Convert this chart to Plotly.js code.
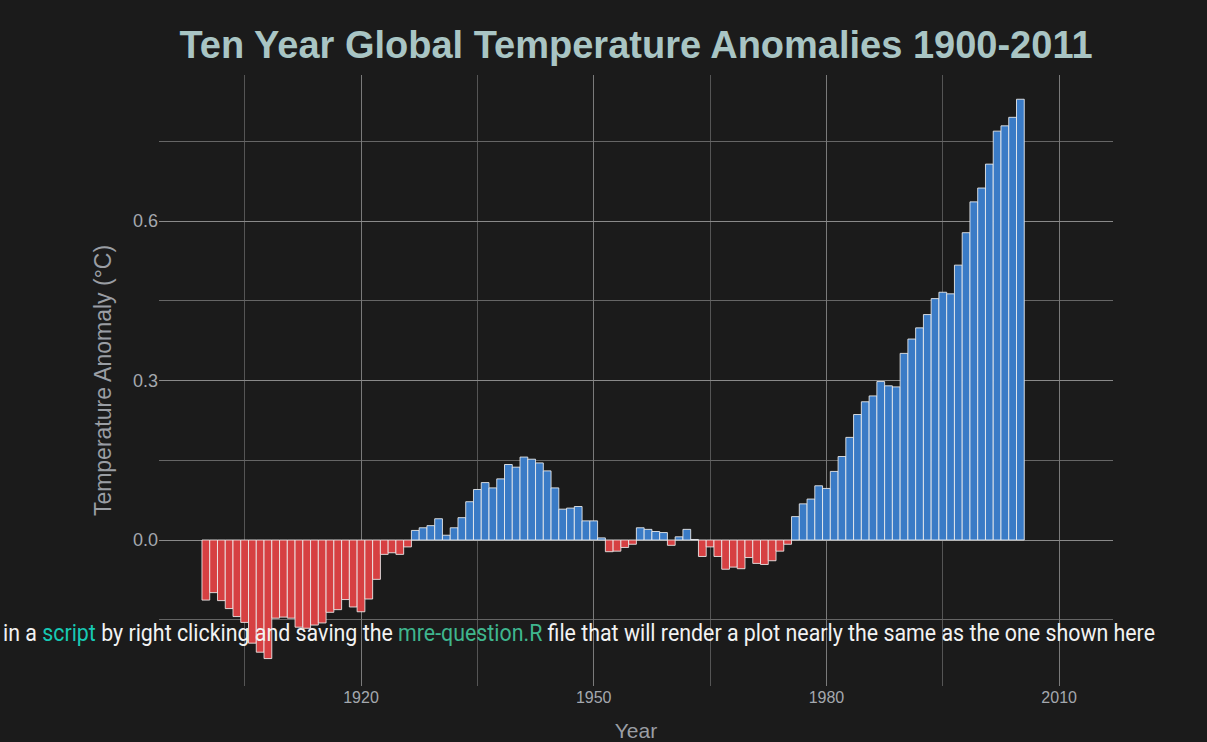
<!DOCTYPE html>
<html>
<head>
<meta charset="utf-8">
<script src="https://cdn.plot.ly/plotly-3.0.1.min.js"></script>
<style>
  html, body { margin: 0; padding: 0; background: #1b1b1b; overflow: hidden; }
  #chart { width: 1207px; height: 742px; }
  #note {
    position: absolute; left: 3px; top: 622px; white-space: nowrap;
    font-family: Roboto, "Noto Sans", sans-serif; font-size: 23px; line-height: 23px;
    color: #f2f2f2; transform-origin: 0 0;
  }
  #note .s1 { color: #17c9b4; }
  #note .s2 { color: #3fb68e; }
</style>
</head>
<body>
<div id="chart"></div>
<div id="note">in a <span class="s1">script</span> by right clicking and saving the <span class="s2">mre-question.R</span> file that will render a plot nearly the same as the one shown here</div>
<script>
const years = [];
for (let y = 1900; y <= 2005; y++) years.push(y);

const anomalies = [
  -0.113, -0.099, -0.114, -0.129, -0.144, -0.155, -0.194, -0.211, -0.223, -0.147,
  -0.145, -0.147, -0.164, -0.166, -0.160, -0.156, -0.136, -0.131, -0.112, -0.126,
  -0.135, -0.111, -0.074, -0.027, -0.024, -0.027, -0.013, 0.018, 0.023, 0.027,
  0.040, 0.009, 0.023, 0.042, 0.072, 0.095, 0.108, 0.098, 0.115, 0.142,
  0.137, 0.156, 0.152, 0.145, 0.130, 0.098, 0.058, 0.060, 0.063, 0.036,
  0.036, 0.004, -0.022, -0.021, -0.014, -0.008, 0.023, 0.020, 0.016, 0.014,
  -0.010, 0.006, 0.020, 0.001, -0.031, -0.013, -0.031, -0.055, -0.051, -0.054,
  -0.033, -0.044, -0.046, -0.039, -0.021, -0.008, 0.044, 0.068, 0.077, 0.102,
  0.097, 0.129, 0.157, 0.193, 0.236, 0.260, 0.271, 0.298, 0.290, 0.288,
  0.351, 0.378, 0.399, 0.424, 0.454, 0.466, 0.463, 0.517, 0.578, 0.636,
  0.662, 0.707, 0.769, 0.779, 0.795, 0.829
];

const xTickVals = [1920, 1950, 1980, 2010];
const xTickText = ['1920', '1950', '1980', '2010'];
const xMinorVals = [1905, 1935, 1965, 1995];
const yTickVals = [0, 0.3, 0.6];
const yTickText = ['0.0', '0.3', '0.6'];
const yMinorVals = [-0.15, 0.15, 0.45, 0.75];

const posColor = '#3a7bc6';
const negColor = '#d64042';
const colors = anomalies.map(v => v >= 0 ? posColor : negColor);

const trace = {
  type: 'bar',
  x: years,
  y: anomalies,
  width: 1,
  marker: { color: colors, line: { color: 'rgba(240,240,240,0.85)', width: 1 } },
  hoverinfo: 'x+y'
};

const layout = {
  width: 1207, height: 742,
  paper_bgcolor: '#1b1b1b',
  plot_bgcolor: '#1b1b1b',
  margin: { l: 159, r: 94, t: 75, b: 56 },
  showlegend: false,
  bargap: 0,
  title: {
    text: '<b>Ten Year Global Temperature Anomalies 1900-2011</b>',
    font: { family: 'Liberation Sans, Arial, sans-serif', size: 38, color: '#a9c5c4' },
    x: 0.5, xanchor: 'center', xref: 'paper',
    y: 1 - 45 / 742, yanchor: 'middle', yref: 'container'
  },
  xaxis: {
    range: [1893.96, 2016.94],
    tickvals: xTickVals, ticktext: xTickText,
    showgrid: true, gridcolor: '#7a7a7a', gridwidth: 1,
    minor: { tickvals: xMinorVals, showgrid: true, gridcolor: '#555555', gridwidth: 1 },
    zeroline: false, showline: false, ticks: '',
    tickfont: { family: 'Liberation Sans, Arial, sans-serif', size: 16, color: '#a4a8ae' },
    title: { text: 'Year', standoff: 18,
      font: { family: 'Liberation Sans, Arial, sans-serif', size: 21, color: '#9a9ea4' } }
  },
  yaxis: {
    range: [-0.2746, 0.8746],
    tickvals: yTickVals, ticktext: yTickText,
    showgrid: true, gridcolor: '#8a8a8a', gridwidth: 1,
    minor: { tickvals: yMinorVals, showgrid: true, gridcolor: '#666666', gridwidth: 1 },
    zeroline: false, showline: false, ticks: '',
    tickfont: { family: 'Liberation Sans, Arial, sans-serif', size: 18, color: '#a4a8ae' },
    title: { text: 'Temperature Anomaly (°C)', standoff: 14,
      font: { family: 'Liberation Sans, Arial, sans-serif', size: 23, color: '#9a9ea4' } }
  }
};

Plotly.newPlot('chart', [trace], layout, { displayModeBar: false, staticPlot: true }).then(() => {
  const note = document.getElementById('note');
  const w = note.getBoundingClientRect().width;
  note.style.transform = 'scaleX(' + (1152 / w) + ')';
});
</script>
</body>
</html>
